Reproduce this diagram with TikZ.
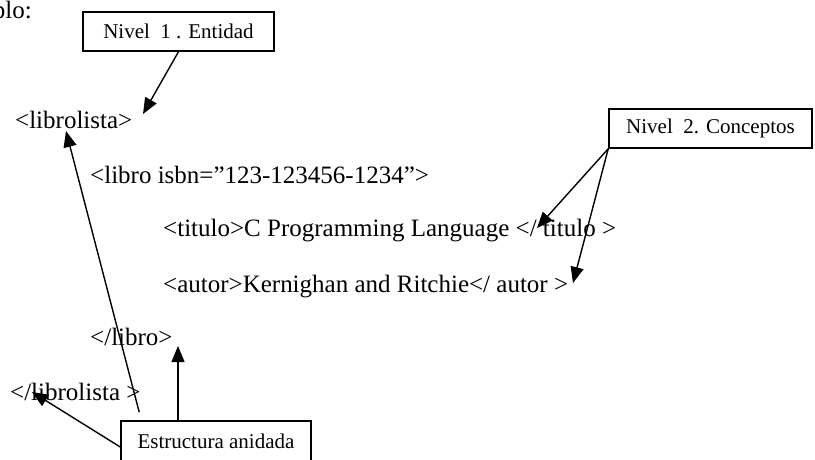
\documentclass[tikz,border=0pt]{standalone}
\usepackage{fontspec}
\setmainfont{Liberation Serif}
\usetikzlibrary{arrows.meta}
\begin{document}
\begin{tikzpicture}[x=1pt,y=-1pt,
  code/.style={font=\fontsize{25}{30}\selectfont, inner sep=0pt, anchor=base west},
  lbl/.style={draw, line width=1.5pt, font=\fontsize{21}{25}\selectfont, inner sep=0pt, minimum height=39pt},
  arr/.style={line width=1.4pt, -{Triangle[length=16pt,width=13pt]}}]
\useasboundingbox (0,0) rectangle (815,459);
\node[code, anchor=base east] (ej) at (32,18) {Ejemplo:};
\node[lbl, minimum width=191pt] (n1) at (178.5,31.5) {Nivel\ \ 1 . Entidad};
\node[lbl, minimum width=203pt] (n2) at (710.5,128.5) {Nivel\ \ 2. Conceptos};
\node[lbl, minimum width=190pt, minimum height=40pt] (n3) at (216,441) {Estructura anidada};
\node[code] (c1) at (15,128) {<librolista>};
\node[code] (c2) at (90,183) {<libro isbn=”123-123456-1234”>};
\node[code] (c3) at (163,236) {<titulo>C Programming Language </ titulo >};
\node[code] (c4) at (163,292) {<autor>Kernighan and Ritchie</ autor >};
\node[code] (c5) at (90,345) {</libro>};
\node[code] (c6) at (10,400) {</librolista >};
\coordinate (p1) at (143,114);
\coordinate (p2) at (537,228);
\coordinate (p3) at (573,283);
\coordinate (p4) at (66,131);
\coordinate (p5) at (178,346);
\coordinate (p6) at (32,392);
\draw[arr] (n1.south) -- (p1);
\draw[arr] (n2.south west) -- (p2);
\draw[arr] (n2.south west) -- (p3);
\draw[arr] ([shift={(19pt,8pt)}]n3.north west) -- (p4);
\draw[arr] (p5 |- n3.north) -- (p5);
\draw[arr] ([yshift=-6pt]n3.west) -- (p6);
\end{tikzpicture}
\end{document}
